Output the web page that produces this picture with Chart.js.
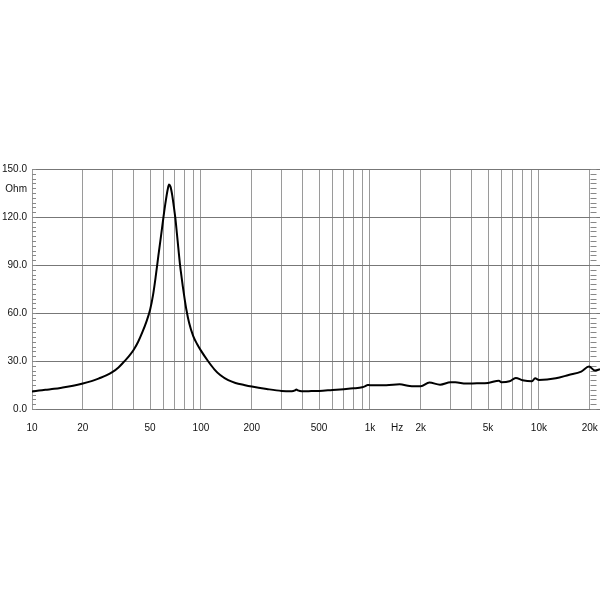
<!DOCTYPE html>
<html>
<head>
<meta charset="utf-8">
<script src="https://cdn.jsdelivr.net/npm/chart.js@4.4.1/dist/chart.umd.min.js"></script>
<style>
  html, body { margin: 0; padding: 0; background: #fff; }
  #wrap { width: 600px; height: 600px; position: relative; }
</style>
</head>
<body>
<div id="wrap"><canvas id="grafico"></canvas></div>
<script>
const frecuencias = [10, 11, 12, 13.5, 15, 17.5, 20, 22.5, 25, 27.5, 30, 32.5, 35, 37.5, 40, 42.5, 45, 47.5, 50, 52, 54, 56, 58, 60, 62, 63.5, 64.7, 66, 67.5, 69, 70.6, 72, 73.4, 75, 76, 78, 80, 82, 85, 90, 95, 100, 110, 120, 130, 145, 160, 180, 200, 245, 300, 345, 360, 367, 375, 395, 450, 500, 600, 700, 800, 900, 940, 970, 1000, 1250, 1500, 1720, 2000, 2250, 2600, 3000, 3200, 3700, 4300, 5000, 5800, 6000, 6700, 7300, 8000, 9100, 9500, 10000, 12600, 15000, 17800, 19800, 21500, 23000];
const impedancia = [11.0, 11.5, 12.0, 12.6, 13.3, 14.5, 15.9, 17.4, 19.2, 21.0, 23.2, 26.0, 29.5, 33.0, 37.0, 42.0, 48.0, 54.5, 62.0, 71.0, 83.0, 96.0, 108.0, 120.0, 130.5, 137.0, 140.3, 139.0, 134.0, 127.0, 119.0, 110.0, 101.0, 91.0, 86.0, 77.0, 69.0, 62.0, 54.0, 45.5, 40.5, 36.5, 30.0, 24.8, 21.2, 18.0, 16.3, 15.0, 14.0, 12.5, 11.3, 11.1, 11.6, 12.2, 11.6, 11.1, 11.2, 11.3, 11.9, 12.4, 12.9, 13.6, 14.3, 15.0, 14.9, 14.8, 15.4, 14.4, 14.2, 16.5, 15.2, 16.7, 16.7, 15.9, 16.1, 16.3, 17.7, 16.7, 17.3, 19.4, 18.0, 17.3, 19.2, 18.2, 19.2, 21.3, 23.4, 26.5, 24.0, 24.9];

// ---- Ejes ----
const lineasX = [10, 20, 30, 40, 50, 60, 70, 80, 90, 100, 200, 300, 400, 500, 600, 700, 800, 900, 1000, 2000, 3000, 4000, 5000, 6000, 7000, 8000, 9000, 10000, 20000];
const etiquetasX = { 10: '10', 20: '20', 50: '50', 100: '100', 200: '200', 500: '500', 1000: '1k', 1450: 'Hz', 2000: '2k', 5000: '5k', 10000: '10k', 20000: '20k' };
const posHz = 1450;
const ticksY = [0, 30, 60, 90, 120, 137.5, 150];
const posOhm = 137.5;
const pasoMenor = 3;

const fuente = { family: 'Liberation Sans, Arial, sans-serif', size: 10 };

// marcas menores del eje Y (izquierda y derecha)
const marcasMenores = {
    id: 'marcasMenores',
    beforeDatasetsDraw(chart) {
        const { ctx, scales: { x, y } } = chart;
        const xDer = Math.round(x.getPixelForValue(20000)) + 0.5;
        ctx.save();
        ctx.strokeStyle = '#888';
        ctx.lineWidth = 1;
        ctx.beginPath();
        for (let v = 0; v <= 150; v += pasoMenor) {
            const py = Math.round(y.getPixelForValue(v)) + 0.5;
            ctx.moveTo(x.left, py); ctx.lineTo(x.left + 4, py);
            ctx.moveTo(xDer, py); ctx.lineTo(xDer + 6, py);
        }
        ctx.stroke();
        ctx.restore();
    }
};

new Chart(document.getElementById('grafico'), {
    type: 'line',
    data: {
        datasets: [{
            data: frecuencias.map((f, i) => ({ x: f, y: impedancia[i] })),
            borderColor: '#000',
            borderWidth: 2,
            pointRadius: 0,
            cubicInterpolationMode: 'monotone',
            fill: false
        }]
    },
    options: {
        responsive: true,
        maintainAspectRatio: false,
        animation: false,
        layout: { padding: { top: 169, right: 0, left: 0, bottom: 0 } },
        plugins: { legend: { display: false }, tooltip: { enabled: false } },
        scales: {
            x: {
                type: 'logarithmic',
                min: 10,
                max: 23000,
                afterBuildTicks: (scale) => {
                    scale.ticks = lineasX.concat([posHz]).sort((a, b) => a - b).map(v => ({ value: v }));
                },
                afterFit: (scale) => { scale.height = 191; },
                ticks: {
                    autoSkip: false,
                    maxRotation: 0,
                    padding: 0,
                    color: '#111',
                    font: fuente,
                    callback: (v) => etiquetasX[v] || ''
                },
                grid: {
                    color: (c) => (c.tick && c.tick.value === posHz) ? 'rgba(0,0,0,0)' : '#9a9a9a',
                    tickColor: 'rgba(0,0,0,0)',
                    tickLength: 13,
                    lineWidth: 1
                },
                border: { display: false }
            },
            y: {
                min: 0,
                max: 150,
                afterBuildTicks: (scale) => {
                    scale.ticks = ticksY.map(v => ({ value: v }));
                },
                afterFit: (scale) => { scale.width = 32; },
                ticks: {
                    padding: 5,
                    color: '#111',
                    font: fuente,
                    callback: (v) => v === posOhm ? 'Ohm' : v.toFixed(1)
                },
                grid: {
                    color: (c) => (c.tick && c.tick.value === posOhm) ? 'rgba(0,0,0,0)' : '#777',
                    drawTicks: false,
                    lineWidth: 1
                },
                border: { display: false }
            }
        }
    },
    plugins: [marcasMenores]
});
</script>
</body>
</html>
